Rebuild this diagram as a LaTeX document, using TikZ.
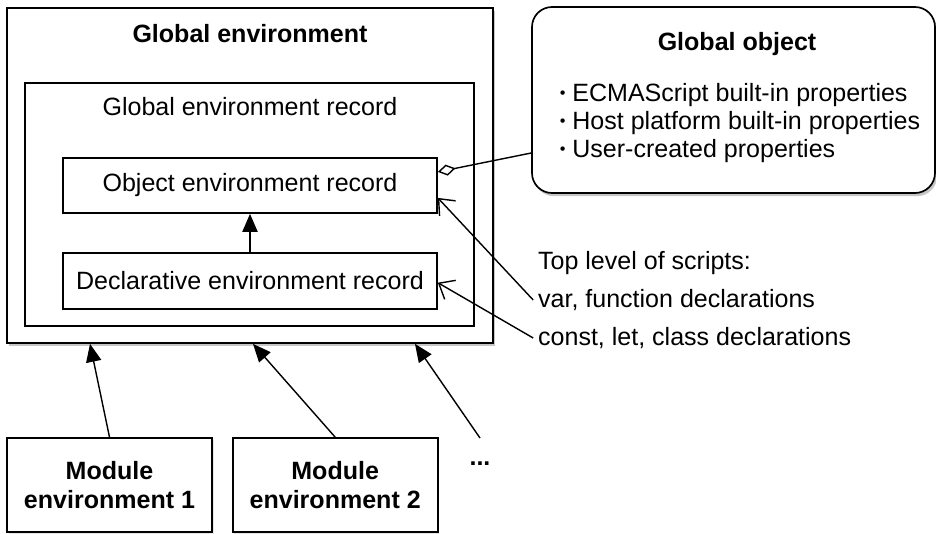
\documentclass[tikz,border=0pt]{standalone}
\usepackage{fontspec}
\setmainfont{Liberation Sans}
\usetikzlibrary{positioning,arrows.meta,shadows}

\newcommand{\propbullet}{\raisebox{0.12em}{\scalebox{0.65}{•}}\ }

\begin{document}
\begin{tikzpicture}[
  box/.style={draw,line width=1.2pt,fill=white},
  envbox/.style={box,drop shadow={opacity=0.45,shadow xshift=0.05cm,shadow yshift=-0.08cm}},
  modbox/.style={box,drop shadow={opacity=0.2,shadow xshift=0.04cm,shadow yshift=-0.05cm}},
  txt/.style={font=\fontsize{17.8}{20}\selectfont},
  heading/.style={font=\fontsize{17.8}{20}\selectfont\bfseries},
  arr/.style={-{Triangle[length=0.45cm,width=0.38cm]},line width=1pt},
  ref/.style={-{Straight Barb[length=0.33cm,width=0.55cm]},line width=1pt},
  agg/.style={{Diamond[open,length=0.45cm,width=0.28cm]}-,line width=1pt},
]
\useasboundingbox (0,0) rectangle (23.4,-13.325);

% Global environment with its record
\node[envbox,minimum width=12.15cm,minimum height=8.375cm] (genv) at (6.25,-4.3875) {};
\node[heading] (genvtitle) at (6.25,-0.85) {Global environment};
\node[box,minimum width=11.225cm,minimum height=6.075cm] (genvrec) at (6.2375,-5.1125) {};
\node[txt] (genvrectitle) at (6.25,-2.675) {Global environment record};
\node[box,txt,minimum width=9.35cm,minimum height=1.375cm] (objrec) at (6.25,-4.6375) {Object environment record};
\node[box,txt,minimum width=9.35cm,minimum height=1.4cm,below=0.95cm of objrec] (declrec) {Declarative environment record};

% Global object
\node[envbox,rounded corners=0.5cm,minimum width=10.075cm,minimum height=4.65cm] (gobj) at (18.3375,-2.5) {};
\node[heading] (gobjtitle) at (18.425,-1.1) {Global object};
\node[txt,align=left,anchor=west] (gobjprops) at (13.87,-3.075) {%
  \propbullet ECMAScript built-in properties\\
  \propbullet Host platform built-in properties\\
  \propbullet User-created properties};

% Declarations
\node[txt,anchor=west] (toplevel) at (13.33,-6.575) {Top level of scripts:};
\node[txt,anchor=west] (varfun) at (13.33,-7.5) {var, function declarations};
\node[txt,anchor=west] (constlet) at (13.33,-8.45) {const, let, class declarations};

% Modules
\node[modbox,heading,align=center,minimum width=5.125cm,minimum height=2.35cm] (mod1) at (2.7375,-12.125) {Module\\environment 1};
\node[modbox,heading,align=center,minimum width=5.125cm,minimum height=2.35cm,right=0.475cm of mod1] (mod2) {Module\\environment 2};
\node[heading] (moddots) at (12.0,-11.6) {...};
\coordinate (moremods) at (12.0,-10.95);

% Arrows
\draw[arr] (declrec) -- (objrec);
\draw[agg] ([yshift=0.34cm]objrec.east) -- ([yshift=-1.325cm]gobj.west);
\draw[ref] (varfun.west) -- ([yshift=-0.31cm]objrec.east);
\draw[ref] (constlet.west) -- ([yshift=-0.05cm]declrec.east);
\draw[arr] (mod1.north) -- ([xshift=-4cm]genv.south);
\draw[arr] (mod2.north) -- ([xshift=0.075cm]genv.south);
\draw[arr] (moremods) -- ([xshift=4.125cm]genv.south);

\end{tikzpicture}
\end{document}
